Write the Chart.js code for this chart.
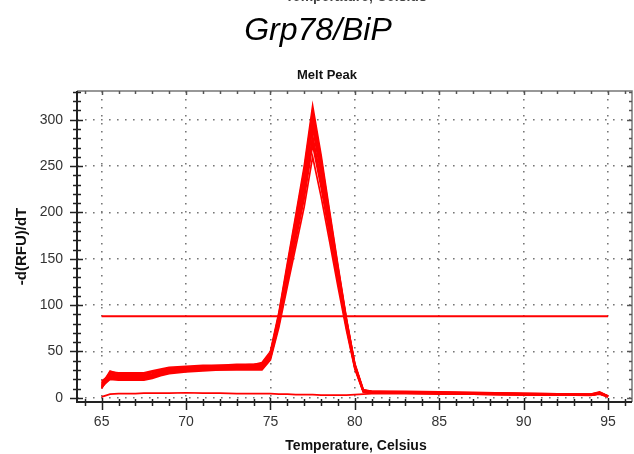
<!DOCTYPE html>
<html>
<head>
<meta charset="utf-8">
<script src="https://cdn.jsdelivr.net/npm/chart.js@4/dist/chart.umd.min.js"></script>
<style>
  html, body { margin: 0; padding: 0; background: #ffffff; }
  #wrap { width: 634px; height: 454px; position: relative; }
</style>
</head>
<body>
<div id="wrap"><canvas id="melt" width="634" height="454"></canvas></div>
<script>
// Temperature points (°C) shared by all melt curves
const temps = [65, 65.5, 66, 66.5, 67, 67.5, 68, 68.5, 69, 70, 71, 72, 73, 74, 74.5,
               75, 75.5, 76, 76.5, 77, 77.5, 78, 78.5, 79, 79.5, 80, 80.5,
               81, 83, 85, 87, 89, 91, 93, 94, 94.5, 95];

// -d(RFU)/dT for each replicate well
const wellA = [12, 28, 27, 27, 27, 27, 29, 31, 33, 34, 35, 35, 36, 36, 38,
               50, 92, 145, 197, 250, 315, 262, 202, 143, 86, 37, 9,
               7, 7, 6.5, 6, 5, 4.5, 4, 4, 6.5, 2];
const wellB = [14, 29, 26, 26, 26, 26, 28, 30, 32, 33, 34, 35, 35, 36, 37,
               49, 90, 142, 194, 246, 310, 258, 199, 141, 85, 36, 8,
               7, 6.5, 6, 5.5, 5, 4.5, 4, 4, 6, 2];
const wellC = [16, 27, 25, 25, 25, 25, 27, 30, 31, 33, 33, 34, 35, 35, 36,
               48, 89, 140, 191, 242, 305, 254, 196, 139, 84, 36, 8,
               6.5, 6, 6, 5, 4.5, 4, 4, 3.5, 5.5, 2];
const wellD = [10, 26, 24, 24, 24, 24, 26, 29, 31, 32, 33, 33, 34, 34, 35,
               47, 87, 137, 187, 237, 300, 249, 193, 137, 82, 35, 8,
               7, 6, 5.5, 5, 4.5, 4, 3.5, 3.5, 5, 1.5];
const wellE = [18, 25, 23, 23, 23, 23, 25, 28, 30, 31, 32, 33, 33, 34, 34,
               46, 86, 135, 184, 233, 296, 245, 190, 135, 81, 34, 8,
               6, 6, 5.5, 5, 4.5, 4, 3.5, 3.5, 5.5, 2];
const wellF = [13, 24, 22, 22, 22, 22, 24, 27, 29, 31, 31, 32, 33, 33, 33,
               45, 84, 133, 181, 229, 291, 241, 187, 132, 80, 34, 7,
               6.5, 6, 5, 4.5, 4, 3.5, 3, 3, 5, 1.5];
const wellG = [15, 23, 21, 21, 21, 21, 23, 26, 28, 30, 31, 31, 32, 32, 33,
               44, 82, 129, 176, 223, 283, 235, 182, 129, 78, 33, 7,
               6, 5.5, 5, 4.5, 4, 3.5, 3, 3, 4.5, 1.5];
const wellH = [11, 22, 20, 20, 20, 20, 22, 25, 28, 29, 30, 31, 31, 32, 32,
               43, 80, 127, 173, 219, 278, 231, 179, 127, 77, 33, 7,
               6, 5.5, 5, 4.5, 4, 3.5, 3, 3, 5, 1.5];
const wellI = [17, 21, 20, 20, 20, 20, 22, 25, 27, 29, 30, 30, 31, 31, 31,
               43, 79, 125, 170, 215, 273, 227, 176, 125, 76, 32, 7,
               5.5, 5.5, 5, 4, 3.5, 3.5, 3, 3, 4.5, 1.5];
const wellJ = [12, 20, 19, 19, 19, 19, 21, 24, 26, 28, 29, 30, 30, 30, 30,
               41, 76, 120, 163, 206, 260, 217, 169, 120, 73, 31, 6,
               5.5, 5, 4.5, 4, 3.5, 3, 3, 2.5, 4.5, 1];
// No-template control
const wellNTC = [1, 4, 4.5, 4.5, 4.5, 5, 5, 5, 5, 5.5, 5, 5, 4.5, 4.5, 4.5,
                 4.5, 4, 4, 3.5, 3.5, 3.5, 3, 3, 3, 3, 3.5, 4,
                 4.5, 4.5, 4, 4, 3.5, 3, 3, 3, 4, 1];

// Peak-call threshold line
const thresholdTemps = [65, 95];
const thresholdValues = [88, 88];

// Axis tick labels
const xTickValues = [65, 70, 75, 80, 85, 90, 95];
const yTickValues = [0, 50, 100, 150, 200, 250, 300];

const wells = [wellA, wellB, wellC, wellD, wellE, wellF, wellG, wellH, wellI, wellJ, wellNTC];

const FONT = '"Liberation Sans", Arial, Helvetica, sans-serif';
const RED = '#ff0000';

const datasets = wells.map(w => ({
  data: temps.map((t, i) => ({ x: t, y: w[i] })),
  borderColor: RED,
  borderWidth: 1.7,
  pointRadius: 0,
  tension: 0,
  fill: false
}));
datasets.push({
  data: thresholdTemps.map((t, i) => ({ x: t, y: thresholdValues[i] })),
  borderColor: RED,
  borderWidth: 2.2,
  pointRadius: 0,
  fill: false
});

// Frame, minor tick marks and the text around the plot
const decorations = {
  id: 'decorations',
  afterDraw(chart) {
    const ctx = chart.ctx;
    const { left, right, top, bottom } = chart.chartArea;
    const xs = chart.scales.x, ys = chart.scales.y;
    ctx.save();

    // frame
    ctx.strokeStyle = '#777';
    ctx.lineWidth = 1.5;
    ctx.beginPath();
    ctx.moveTo(left, top); ctx.lineTo(right, top); ctx.lineTo(right, bottom);
    ctx.stroke();
    ctx.strokeStyle = '#222';
    ctx.lineWidth = 2;
    ctx.beginPath();
    ctx.moveTo(left, top); ctx.lineTo(left, bottom); ctx.lineTo(right, bottom);
    ctx.stroke();

    // x tick marks (bottom and top)
    ctx.lineWidth = 1.5;
    for (let v = 64; v <= 96; v++) {
      const px = Math.round(xs.getPixelForValue(v)) + 0.5;
      const major = v % 5 === 0;
      ctx.strokeStyle = '#222';
      ctx.beginPath();
      ctx.moveTo(px, bottom - (major ? 4 : 3));
      ctx.lineTo(px, bottom + (major ? 8 : 4));
      ctx.stroke();
      ctx.strokeStyle = '#555';
      ctx.beginPath();
      ctx.moveTo(px, top);
      ctx.lineTo(px, top + (major ? 4 : 3));
      ctx.stroke();
    }
    // y tick marks (left and right)
    for (let v = 0; v <= 330; v += 10) {
      const py = Math.round(ys.getPixelForValue(v)) + 0.5;
      const major = v % 50 === 0;
      ctx.strokeStyle = '#222';
      ctx.beginPath();
      ctx.moveTo(left - (major ? 7 : 4), py);
      ctx.lineTo(left + (major ? 6 : 4), py);
      ctx.stroke();
      ctx.strokeStyle = '#555';
      ctx.beginPath();
      ctx.moveTo(right - (major ? 5 : 3), py);
      ctx.lineTo(right, py);
      ctx.stroke();
    }

    // texts
    ctx.fillStyle = '#000';
    ctx.textAlign = 'center';
    ctx.textBaseline = 'alphabetic';
    ctx.font = 'bold 14px ' + FONT;
    ctx.fillStyle = '#444';
    ctx.fillText('Temperature, Celsius', 356, 0.5);
    ctx.fillStyle = '#000';
    ctx.font = 'italic 32px ' + FONT;
    ctx.fillText('Grp78/BiP', 318, 40);
    ctx.font = 'bold 13px ' + FONT;
    ctx.fillStyle = '#111';
    ctx.fillText('Melt Peak', 327, 79);
    ctx.font = 'bold 14px ' + FONT;
    ctx.fillText('Temperature, Celsius', 356, 450);
    ctx.save();
    ctx.translate(26, (top + bottom) / 2);
    ctx.rotate(-Math.PI / 2);
    ctx.font = 'bold 15px ' + FONT;
    ctx.fillText('-d(RFU)/dT', 0, 0);
    ctx.restore();

    ctx.restore();
  }
};

new Chart(document.getElementById('melt'), {
  type: 'line',
  data: { datasets },
  options: {
    responsive: false,
    animation: false,
    events: [],
    layout: { padding: { top: 91, right: 2, left: 0, bottom: 0 } },
    plugins: { legend: { display: false }, tooltip: { enabled: false }, title: { display: false } },
    scales: {
      x: {
        type: 'linear',
        min: 63.54,
        max: 96.42,
        afterBuildTicks: s => { s.ticks = xTickValues.map(v => ({ value: v })); },
        afterFit: s => { s.height = 52; },
        grid: { color: '#777', lineWidth: 1.6, drawTicks: false },
        border: { display: false, dash: [1.6, 6.4] },
        ticks: { padding: 12, color: '#333', font: { family: FONT, size: 14 }, maxRotation: 0 }
      },
      y: {
        type: 'linear',
        min: -4.5,
        max: 331,
        afterBuildTicks: s => { s.ticks = yTickValues.map(v => ({ value: v })); },
        afterFit: s => { s.width = 77; },
        grid: { color: '#777', lineWidth: 1.6, drawTicks: false },
        border: { display: false, dash: [1.6, 6.4] },
        ticks: { padding: 14, color: '#333', font: { family: FONT, size: 14 } }
      }
    }
  },
  plugins: [decorations]
});
</script>
</body>
</html>
